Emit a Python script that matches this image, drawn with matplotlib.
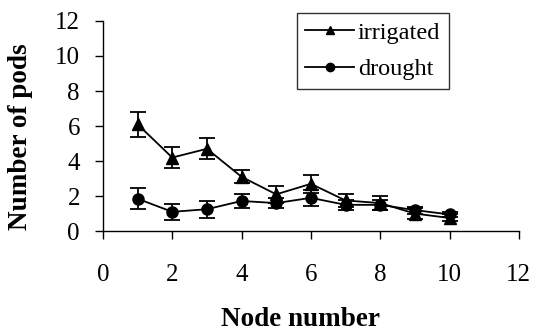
import matplotlib
matplotlib.use("Agg")
import matplotlib.pyplot as plt

nodes = [1, 2, 3, 4, 5, 6, 7, 8, 9, 10]
irrigated = [6.1, 4.2, 4.7, 3.1, 2.1, 2.7, 1.75, 1.6, 1.0, 0.75]
irrigated_err = [0.7, 0.6, 0.6, 0.37, 0.5, 0.5, 0.35, 0.4, 0.3, 0.2]
drought = [1.85, 1.1, 1.25, 1.72, 1.6, 1.9, 1.5, 1.5, 1.2, 0.95]
drought_err = [0.6, 0.45, 0.48, 0.42, 0.3, 0.45, 0.3, 0.3, 0.2, 0.15]
x_ticks = [0, 2, 4, 6, 8, 10, 12]
y_ticks = [0, 2, 4, 6, 8, 10, 12]

plt.rcParams['font.family'] = ['Liberation Serif', 'DejaVu Serif']

fig = plt.figure(figsize=(5.36, 3.33), dpi=100)
ax = fig.add_axes([0.192, 0.306, 0.776, 0.631])

ax.errorbar(nodes, irrigated, yerr=irrigated_err, color='black', marker='^',
            markersize=8.5, linewidth=1.3, capsize=6, elinewidth=1.3, capthick=1.3,
            label='irrigated')
ax.errorbar(nodes, drought, yerr=drought_err, color='black', marker='o',
            markersize=8, linewidth=1.3, capsize=6, elinewidth=1.3, capthick=1.3,
            label='drought')

ax.set_xlim(0, 12)
ax.set_ylim(0, 12)
ax.set_xticks(x_ticks)
ax.set_yticks(y_ticks)
ax.tick_params(direction='out', length=5.5, width=1, labelsize=18)
ax.tick_params(axis='x', pad=18)
ax.tick_params(axis='y', pad=11)
for s in ['top', 'right']:
    ax.spines[s].set_visible(False)
for s in ['left', 'bottom']:
    ax.spines[s].set_linewidth(1)

ax.set_xlabel('Node number', fontsize=19.5, fontweight='bold')
ax.set_ylabel('Number of pods', fontsize=19.5, fontweight='bold')
ax.xaxis.set_label_coords(0.474, -0.362)
ax.yaxis.set_label_coords(-0.168, 0.45)

handles, labels = ax.get_legend_handles_labels()
handles = [h[0] for h in handles]
leg = fig.legend(handles, labels, loc='upper left', bbox_to_anchor=(0.554, 0.961),
                 borderaxespad=0.0,
                 fontsize=17.5, frameon=True, fancybox=False, edgecolor='black',
                 handlelength=2.0, handletextpad=0.15, borderpad=0.35, labelspacing=0.6,
                 markerscale=0.75)
leg.get_frame().set_linewidth(1)

fig.savefig('out.png', dpi=100)
